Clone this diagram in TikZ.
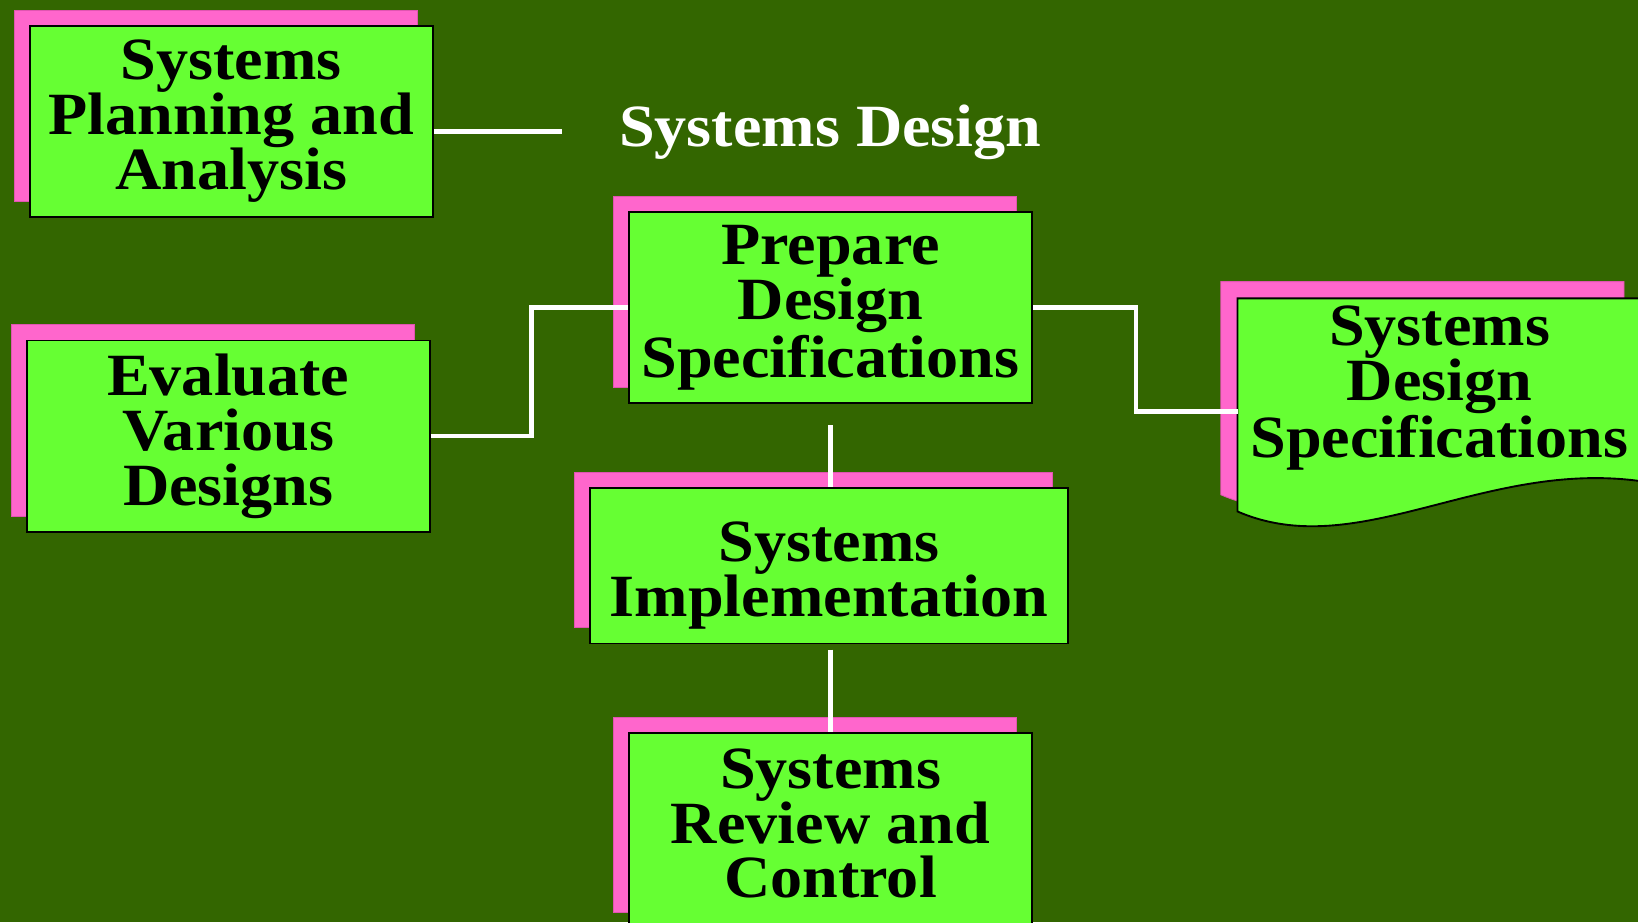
\documentclass[tikz,border=0pt]{standalone}
\usepackage{fontspec}
\setmainfont{Liberation Serif}[FakeStretch=1.07]
\usetikzlibrary{shadows,calc}
\definecolor{bgolive}{HTML}{336600}
\definecolor{boxgreen}{HTML}{66FF33}
\definecolor{shadepink}{HTML}{FF66CC}
\definecolor{shadeedge}{HTML}{E055B0}

\begin{document}
\begin{tikzpicture}[x=0.5pt,y=-0.5pt,
  boxtext/.style={font=\bfseries\fontsize{28.7pt}{26.3pt}\selectfont, align=center},
  stepbox/.style={boxtext, draw=black, line width=0.9pt, fill=boxgreen,
    inner sep=0pt, minimum width=193pt, minimum height=91.5pt,
    general shadow={fill=shadepink, draw=shadeedge, line width=0.4pt,
      shadow xshift=-7.5pt, shadow yshift=7.5pt}},
  link/.style={draw=white, line width=2.1pt},
]
\useasboundingbox (0,0) rectangle (1568,883);
\clip (0,0) rectangle (1568,883);
\fill[bgolive] (0,0) rectangle (1568,883);

% heading
\node[boxtext, text=white, anchor=base] (title) at (794.8,139.8) {Systems Design};

% document-shaped output
\node[inner sep=0pt, minimum width=193pt, minimum height=108pt] (sds) at (1378,394) {};
\begin{scope}[shift={(sds.north west)}]
  \begin{scope}[shift={(-16,-16)}]
    \filldraw[fill=shadepink, draw=shadeedge, line width=0.4pt]
      (0,0) -- (386,0) -- (386,175) .. controls (235,154) and (115,254) .. (0,204) -- cycle;
  \end{scope}
  \filldraw[fill=boxgreen, draw=black, line width=0.9pt]
    (0,0) -- (386,0) -- (386,175) .. controls (235,154) and (115,254) .. (0,204) -- cycle;
\end{scope}
\node[boxtext] (sdstext) at (1378,371.5) {Systems\\Design\\Specifications};

% process boxes
\node[stepbox] (plan) at (221.5,116) {Systems\\Planning and\\Analysis};
\node[stepbox] (prep) at (795,294.5) {Prepare\\Design\\Specifications};
\node[stepbox] (eval) at (218.5,417.5) {Evaluate\\Various\\Designs};
\node[stepbox, minimum width=228.5pt, minimum height=74.5pt] (impl) at (793.5,541.5)
  {\rule{0pt}{28.8pt}Systems\\Implementation};
\node[stepbox, minimum height=93pt] (review) at (795,795)
  {Systems\\Review and\\Control\rule[-7pt]{0pt}{7pt}};

% connectors
\coordinate (planout) at ([yshift=-5pt]plan.east);
\coordinate (titlelead) at ($(planout)+(123,0)$);
\draw[link] (planout) -- (titlelead);
\draw[link] (eval.east) -- ++(96.5,0) |- (prep.west);
\draw[link] (prep.east) -- ++(98.5,0) |- (sds.west);
\coordinate (implin) at ([yshift=-10pt]prep.south);
\draw[link] (implin) -- (implin |- impl.north);
\coordinate (revin) at ([yshift=-2.5pt,xshift=0.75pt]impl.south);
\draw[link] (revin) -- (revin |- review.north);
\end{tikzpicture}
\end{document}
